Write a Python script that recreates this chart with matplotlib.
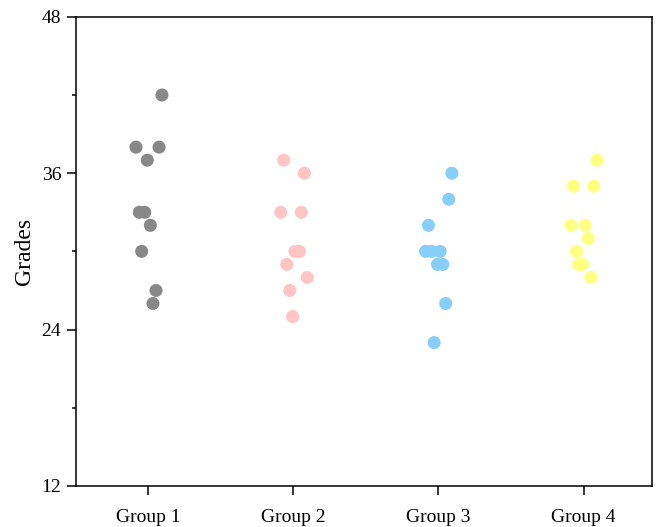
import matplotlib
matplotlib.use("Agg")
import matplotlib.pyplot as plt
from matplotlib.ticker import MultipleLocator

plt.rcParams['font.family'] = ['Liberation Serif', 'DejaVu Serif']

groups = ['Group 1', 'Group 2', 'Group 3', 'Group 4']
colors = ['#888888', '#FFC4C4', '#87CEFA', '#FFFF80']

g1 = [42, 38, 38, 37, 33, 33, 32, 30, 27, 26]
g2 = [37, 36, 33, 33, 30, 30, 29, 28, 27, 25]
g3 = [36, 34, 32, 30, 30, 30, 29, 29, 26, 23]
g4 = [37, 35, 35, 32, 32, 31, 30, 29, 29, 28]

# horizontal jitter
j1 = [0.094, -0.085, 0.074, -0.007, -0.062, -0.025, 0.014, -0.046, 0.053, 0.032]
j2 = [-0.067, 0.076, -0.087, 0.055, 0.011, 0.041, -0.046, 0.096, -0.025, -0.005]
j3 = [0.092, 0.071, -0.069, -0.089, -0.048, 0.011, -0.007, 0.030, 0.050, -0.030]
j4 = [0.092, -0.069, 0.071, -0.087, 0.011, 0.032, -0.048, -0.034, -0.007, 0.050]

values = [g1, g2, g3, g4]
jitter = [j1, j2, j3, j4]

fig = plt.figure(figsize=(6.59, 5.27), dpi=100)
ax = fig.add_axes([0.115, 0.078, 0.874, 0.890])

for i, (vals, jit, c) in enumerate(zip(values, jitter, colors)):
    xs = [i + 1 + d for d in jit]
    ax.scatter(xs, vals, s=88, color=c, edgecolors='none', zorder=3)

ax.set_xlim(0.5, 4.47)
ax.set_ylim(12, 48)
ax.set_xticks([1, 2, 3, 4])
ax.set_xticklabels(groups)
ax.yaxis.set_major_locator(MultipleLocator(12))
ax.yaxis.set_minor_locator(MultipleLocator(6))
ax.set_ylabel('Grades', fontsize=17, labelpad=5)

for sp in ax.spines.values():
    sp.set_linewidth(1.1)
ax.tick_params(axis='both', which='major', direction='out', length=6.5, width=1.1, labelsize=14)
ax.tick_params(axis='x', pad=10)
ax.tick_params(axis='y', pad=4)
ax.tick_params(axis='y', which='minor', direction='out', length=3.2, width=1.1)
ax.tick_params(axis='x', which='minor', bottom=False)

fig.savefig('out.png', dpi=100)
